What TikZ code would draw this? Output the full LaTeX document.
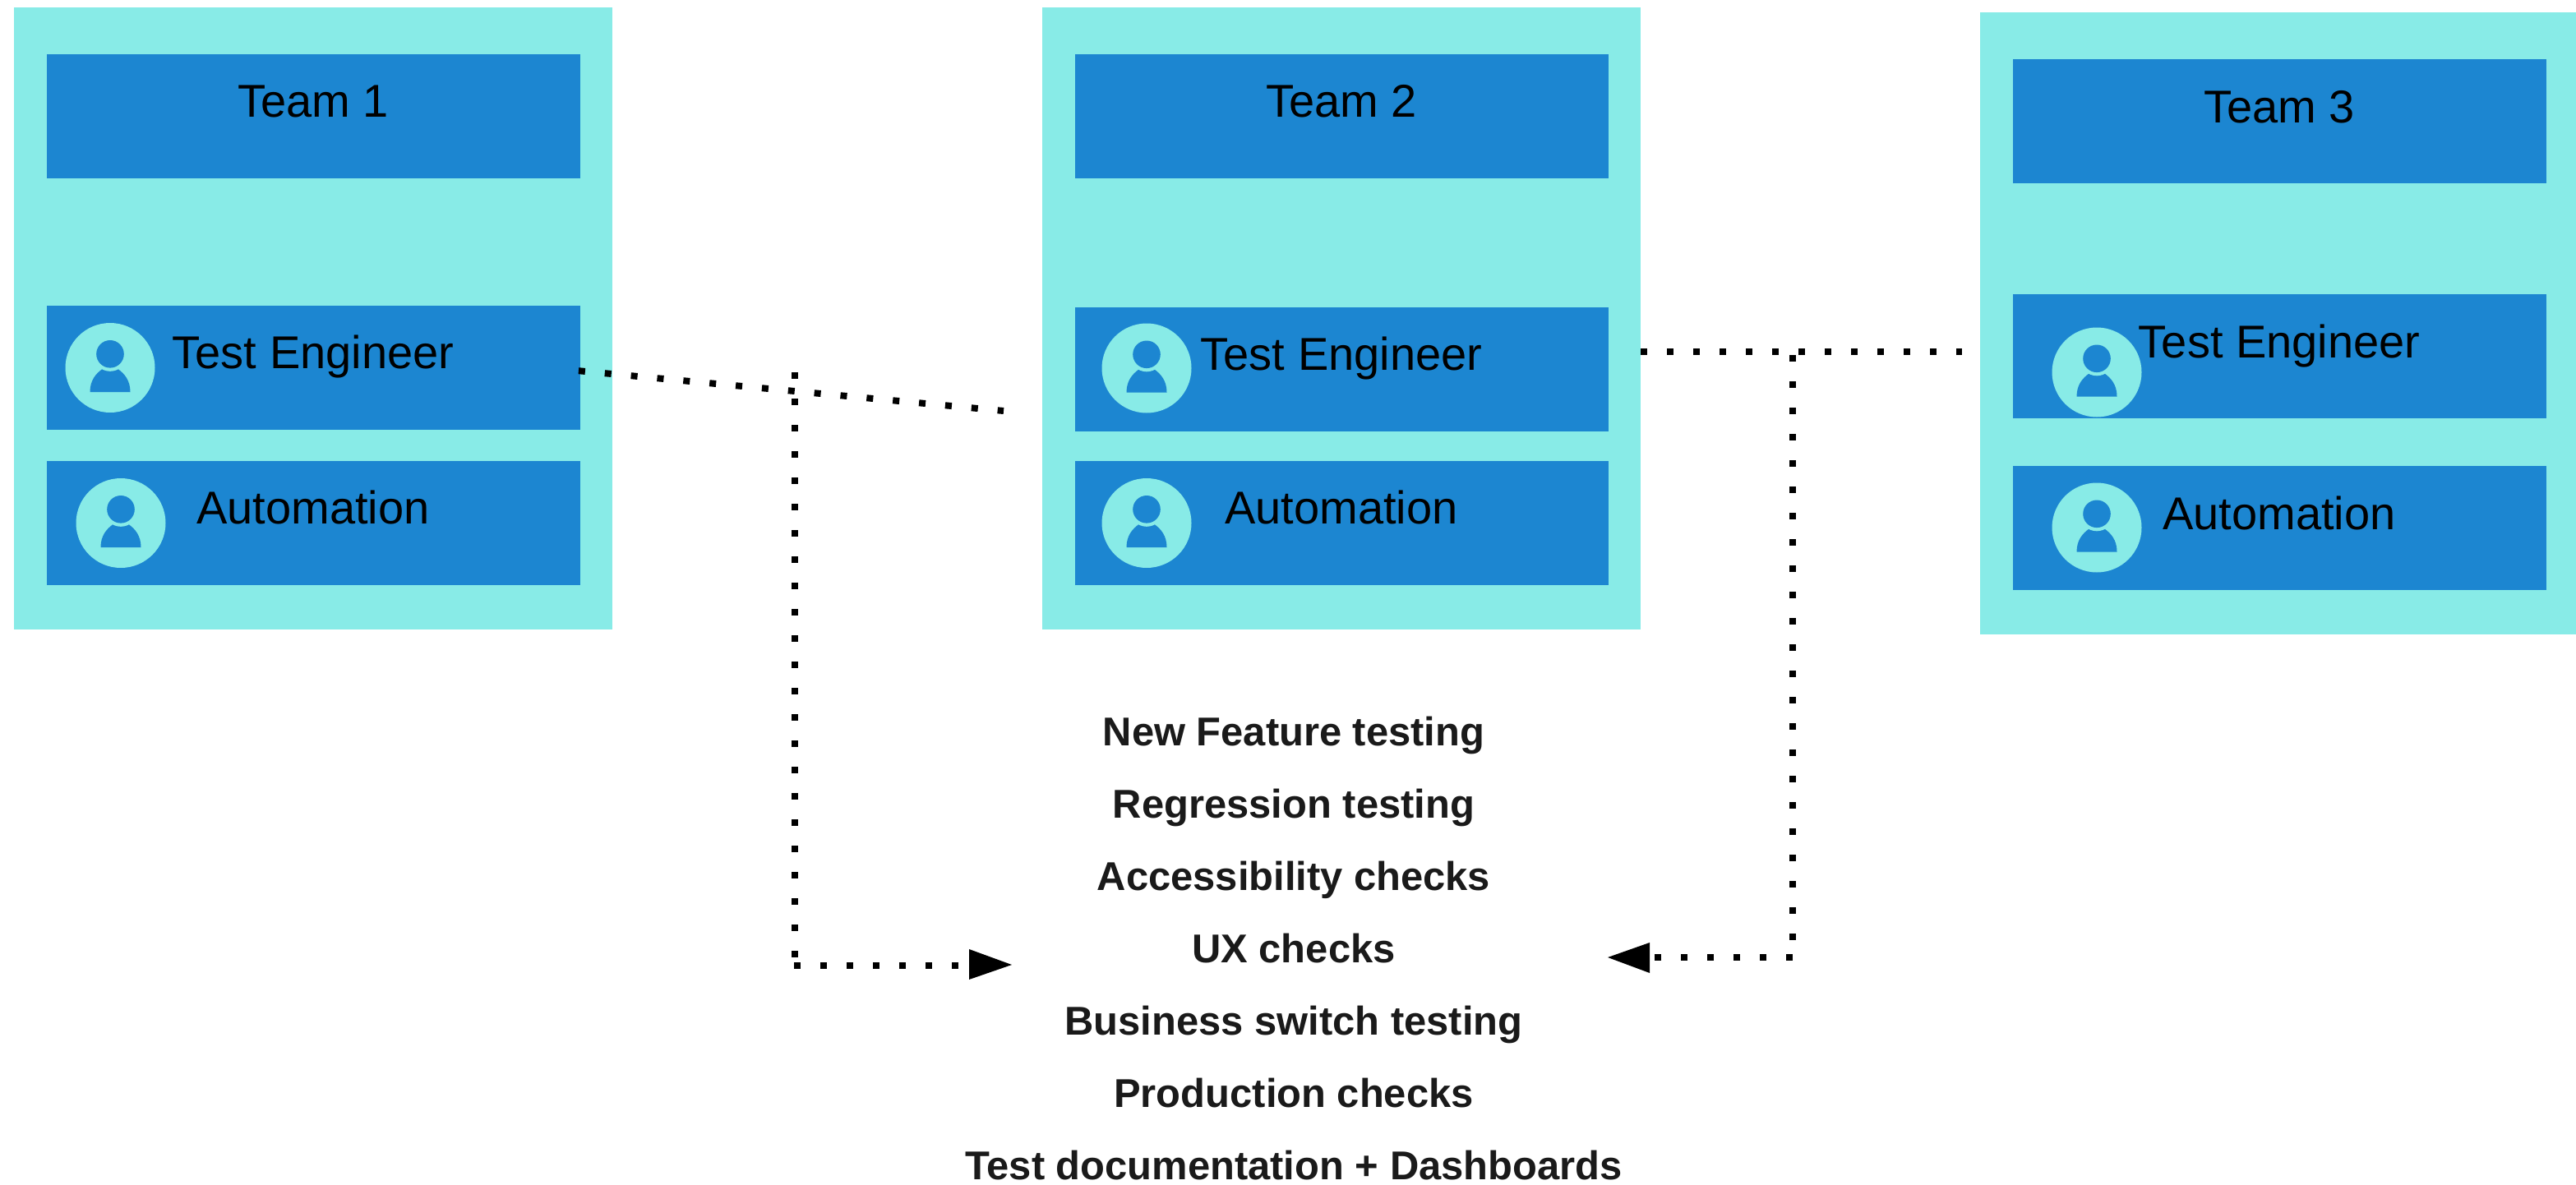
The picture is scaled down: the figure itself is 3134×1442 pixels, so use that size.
\documentclass[tikz,border=0pt]{standalone}
\usepackage{fontspec}
\setmainfont{Liberation Sans}
\definecolor{teamcyan}{HTML}{88EBE7}
\definecolor{teamblue}{HTML}{1C86D1}
\definecolor{listink}{HTML}{1A1A1A}
\tikzset{
  outerbox/.style={fill=teamcyan,draw=none,inner sep=0pt,minimum width=728pt,minimum height=757pt,anchor=north west},
  innerbox/.style={fill=teamblue,draw=none,inner sep=0pt,minimum width=648.5pt,minimum height=151pt,anchor=north west},
  rolelabel/.style={font=\fontsize{56}{60}\selectfont,text=black,inner sep=0pt,anchor=base},
  listlabel/.style={font=\fontsize{48.9}{52}\selectfont\bfseries,text=listink,inner sep=0pt,anchor=base},
  dotline/.style={draw=black,line width=8pt,dash pattern=on 8pt off 24pt},
  tiphead/.style={fill=black,draw=none},
  persondisc/.style={circle,fill=teamcyan,draw=none,inner sep=0pt,minimum size=109pt},
  pics/person/.style={code={
    \fill[teamblue] (-24.5,29.5) .. controls (-24.5,15) and (-17,7) .. (-9.5,1.5) -- (9.5,1.5) .. controls (17,7) and (24.5,15) .. (24.5,29.5) -- cycle;
    \fill[teamcyan] (0,-16.7) circle (21pt);
    \fill[teamblue] (0,-16.7) circle (16.8pt);
  }}
}
\begin{document}
\begin{tikzpicture}[x=1pt,y=-1pt]
\useasboundingbox (0,0) rectangle (3134,1442);
% Team 1
\node[outerbox] (outer1) at (17,9) {};
\node[innerbox] (head1) at (57,66) {};
\node[innerbox] (te1) at (57,372) {};
\node[innerbox] (auto1) at (57,561) {};
\node[rolelabel] (headtext1) at (381,143) {Team 1};
\node[persondisc] (disc1a) at (134,447.5) {};
\pic at (134,447.5) {person};
\node[persondisc] (disc1b) at (147,636.5) {};
\pic at (147,636.5) {person};
\node[rolelabel] (tetext1) at (381,448) {Test Engineer};
\node[rolelabel] (autotext1) at (381,637) {Automation};
% Team 2
\node[outerbox] (outer2) at (1268,9) {};
\node[innerbox] (head2) at (1308,66) {};
\node[innerbox] (te2) at (1308,374) {};
\node[innerbox] (auto2) at (1308,561) {};
\node[rolelabel] (headtext2) at (1632,143) {Team 2};
\node[persondisc] (disc2a) at (1395,448) {};
\pic at (1395,448) {person};
\node[persondisc] (disc2b) at (1395,636.5) {};
\pic at (1395,636.5) {person};
\node[rolelabel] (tetext2) at (1632,450) {Test Engineer};
\node[rolelabel] (autotext2) at (1632,637) {Automation};
% Team 3
\node[outerbox] (outer3) at (2409,15) {};
\node[innerbox] (head3) at (2449,72) {};
\node[innerbox] (te3) at (2449,358) {};
\node[innerbox] (auto3) at (2449,567) {};
\node[rolelabel] (headtext3) at (2773,150) {Team 3};
\node[persondisc] (disc3a) at (2551,453) {};
\pic at (2551,453) {person};
\node[persondisc] (disc3b) at (2551,642) {};
\pic at (2551,642) {person};
\node[rolelabel] (tetext3) at (2773,435) {Test Engineer};
\node[rolelabel] (autotext3) at (2773,644) {Automation};
% List
\node[listlabel] (l1) at (1574,907) {New Feature testing};
\node[listlabel] (l2) at (1574,995) {Regression testing};
\node[listlabel] (l3) at (1574,1083) {Accessibility checks};
\node[listlabel] (l4) at (1574,1171) {UX checks};
\node[listlabel] (l5) at (1574,1259) {Business switch testing};
\node[listlabel] (l6) at (1574,1347) {Production checks};
\node[listlabel] (l7) at (1574,1435) {Test documentation + Dashboards};
% Connectors
\coordinate (gapleft) at (1221,500);
\coordinate (jointleft) at (967,453);
\coordinate (cornerleftv) at (967,1175);
\coordinate (cornerleft) at (966,1175);
\coordinate (tipleft) at (1179,1175);
\coordinate (gapright) at (2387,428);
\coordinate (jointright) at (2181,432);
\coordinate (cornerright) at (2181,1165);
\coordinate (tipright) at (2007,1165);
\draw[dotline] ([xshift=-2pt,yshift=-3.5pt]te1.east) -- (gapleft);
\draw[dotline] (jointleft) -- (cornerleftv);
\draw[dotline] (cornerleft) -- (tipleft);
\draw[dotline] (outer2.east |- gapright) -- (gapright);
\draw[dotline] (jointright) -- (cornerright);
\draw[dotline] (cornerright) -- (tipright);
\fill[tiphead] (1179,1155) -- (1231,1174) -- (1179,1192) -- cycle;
\fill[tiphead] (2007,1147) -- (1956,1165) -- (2007,1184) -- cycle;
\end{tikzpicture}
\end{document}
